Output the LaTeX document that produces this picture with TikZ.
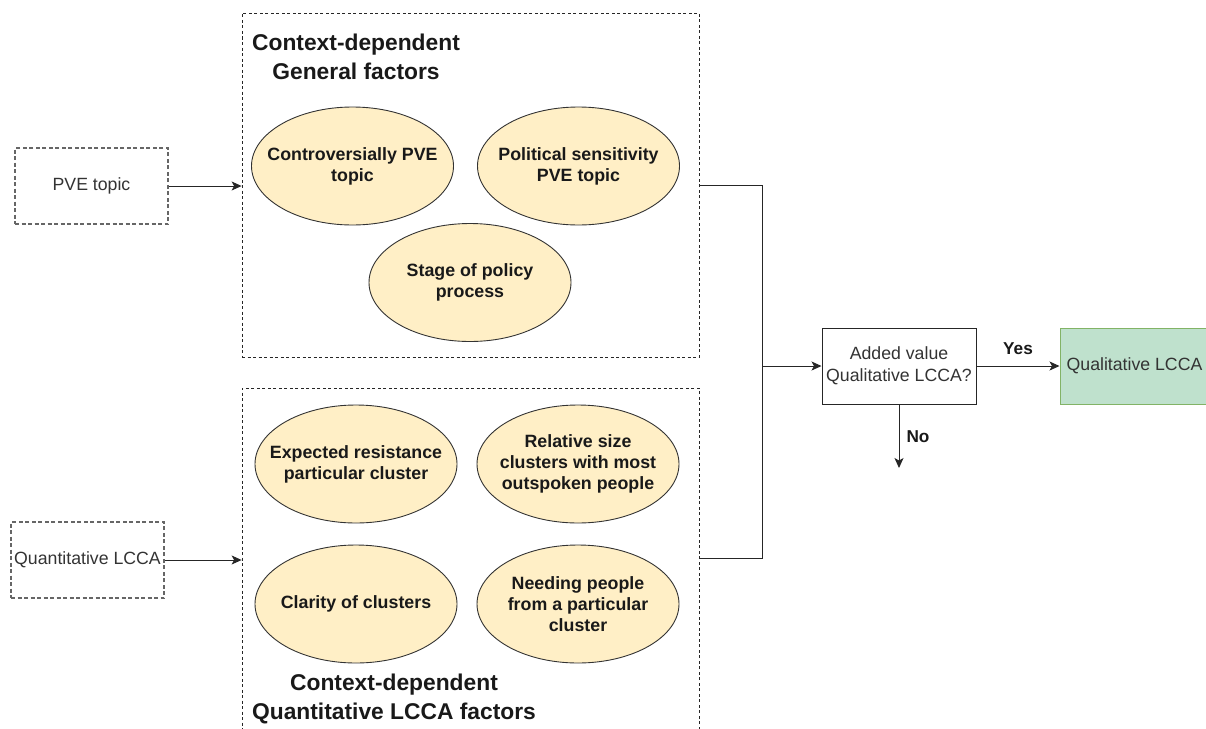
\documentclass[tikz,border=0pt]{standalone}
\usepackage{fontspec}
\setmainfont{Liberation Sans}
\usetikzlibrary{shapes.geometric,arrows.meta}

\definecolor{txtgray}{HTML}{333333}
\definecolor{boxgray}{HTML}{666666}
\definecolor{factorfill}{HTML}{FFEFC6}
\definecolor{resultfill}{HTML}{BFE1CD}
\definecolor{resultline}{HTML}{82B366}

\tikzset{
  conn/.style={line width=1pt, draw=black!85},
  arr/.style={conn, -{Stealth[length=10pt,width=9pt,inset=2.5pt]}},
  inputbox/.style={draw=boxgray, line width=1.1pt, dash pattern=on 4pt off 2.5pt,
    minimum width=153pt, minimum height=76pt, inner sep=0pt,
    font=\fontsize{17.7}{21}\selectfont, text=txtgray},
  groupbox/.style={draw=black!85, line width=0.8pt, dash pattern=on 3pt off 2.5pt,
    inner sep=0pt},
  factor/.style={ellipse, draw=black!80, line width=0.9pt, fill=factorfill,
    minimum width=202pt, minimum height=118pt, inner xsep=-45pt, inner ysep=0pt,
    align=center, font=\bfseries\fontsize{17.8}{21}\selectfont, text=black!90},
  grouptitle/.style={align=center, font=\bfseries\fontsize{22.8}{28.5}\selectfont,
    text=black!90, inner sep=0pt},
  decisionbox/.style={draw=black!85, line width=1pt, fill=white,
    minimum width=154pt, minimum height=76pt, inner sep=0pt, align=center,
    font=\fontsize{17.7}{22}\selectfont, text=txtgray},
  resultbox/.style={draw=resultline, line width=1pt, fill=resultfill,
    minimum width=160pt, minimum height=76pt, inner sep=0pt,
    font=\fontsize{17.7}{21}\selectfont, text=txtgray},
  edgelabel/.style={font=\bfseries\fontsize{17.2}{20}\selectfont, text=black!90, inner sep=0pt}
}

\begin{document}
\begin{tikzpicture}[x=1pt, y=-1pt]
  \clip (0,0) rectangle (1206,728);
  \useasboundingbox (0,0) rectangle (1206,728);

  % inputs
  \node[inputbox] (pve) at (91.5,186) {PVE topic};
  \node[inputbox] (quant) at (87.5,560) {Quantitative LCCA};

  % factor groups
  \node[groupbox, minimum width=457pt, minimum height=344pt] (gen) at (470.5,185) {};
  \node[groupbox, minimum width=457pt, minimum height=341pt] (qfac) at (470.5,558.5) {};

  \node[grouptitle] (gentitle) at (356,57) {Context-dependent\\General factors};
  \node[grouptitle] (qtitle) at (394,699) {Context-dependent\\Quantitative LCCA factors};

  % general factors
  \node[factor] (contr) at (352.5,166) {Controversially PVE\\topic};
  \node[factor] (polit) at (578.5,166) {Political sensitivity\\PVE topic};
  \node[factor] (stage) at (470,282.5) {Stage of policy\\process};

  % quantitative LCCA factors
  \node[factor] (resist) at (356,464) {Expected resistance\\particular cluster};
  \node[factor] (relsize) at (578,464) {Relative size\\clusters with most\\outspoken people};
  \node[factor] (clarity) at (356,604) {Clarity of clusters};
  \node[factor] (needing) at (578,604) {Needing people\\from a particular\\cluster};

  % decision and outcome
  \node[decisionbox] (dec) at (899,366) {Added value\\Qualitative LCCA?};
  \node[resultbox] (qual) at (1140,366) {\hspace*{-11pt}Qualitative LCCA};

  \coordinate (join) at (762,366);
  \coordinate (noend) at (899,468);

  % connectors
  \draw[arr] (pve) -- (gen.west |- pve);
  \draw[arr] (quant) -- (qfac.west |- quant);
  \draw[conn] (gen.east) -| (join);
  \draw[conn] (qfac.east) -| (join);
  \draw[arr] (join) -- (dec);
  \draw[arr] (dec) -- node[edgelabel, above=11pt] {Yes} (qual);
  \draw[arr] (dec) -- node[edgelabel, right=7pt, pos=0.5] {No} (noend);
\end{tikzpicture}
\end{document}
